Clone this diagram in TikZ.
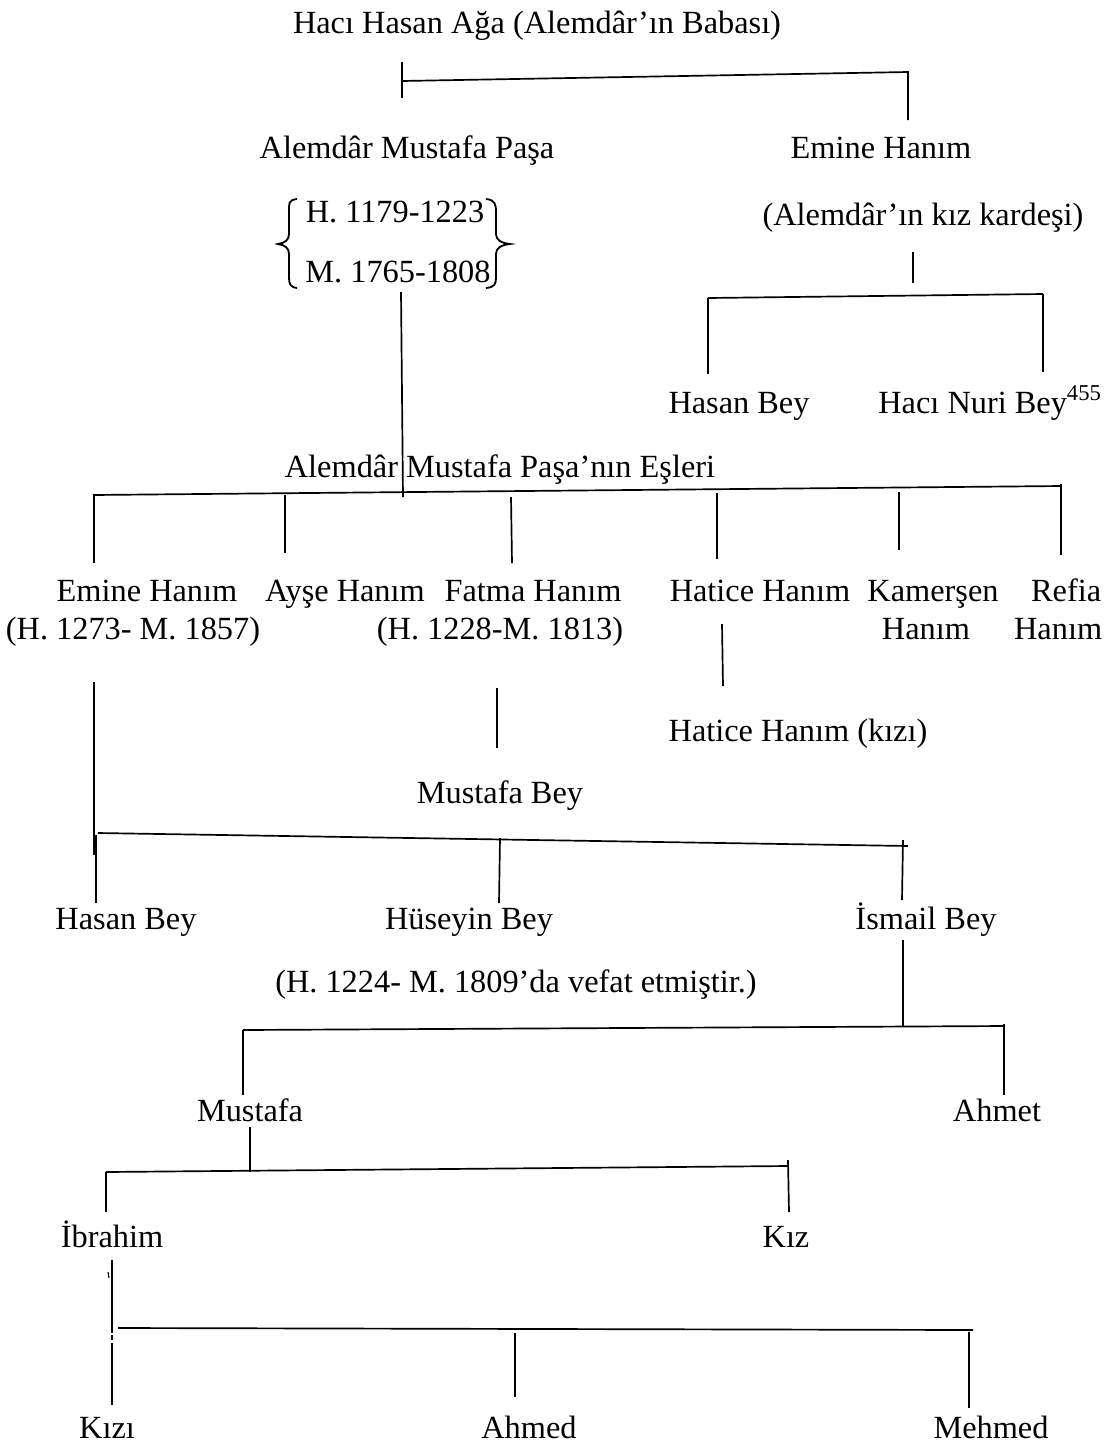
\documentclass[tikz,border=0pt]{standalone}
\usepackage{fontspec}
\setmainfont{Liberation Serif}
\begin{document}
\begin{tikzpicture}[x=0.025cm,y=-0.025cm,line width=1.2pt,
  every node/.style={anchor=base,inner sep=0pt,font=\fontsize{23}{27}\selectfont}]
\useasboundingbox (0,0) rectangle (1114,1443);

% names
\node (baba) at (537,33) {Hacı Hasan Ağa (Alemdâr’ın Babası)};
\node (pasa) at (407,158) {Alemdâr Mustafa Paşa};
\node (emine) at (881,158) {Emine Hanım};
\node (hicri) at (395,222) {H. 1179-1223};
\node (miladi) at (398,282) {M. 1765-1808};
\node (kardes) at (923,225) {(Alemdâr’ın kız kardeşi)};
\node (hasan) at (739,413) {Hasan Bey};
\node (nuri) at (990,413) {Hacı Nuri Bey\textsuperscript{455}};
\node (esler) at (500,477) {Alemdâr Mustafa Paşa’nın Eşleri};

\node (emineH) at (147,601) {Emine Hanım};
\node (emineT) at (133,639) {(H. 1273- M. 1857)};
\node (ayse) at (345,601) {Ayşe Hanım};
\node (fatma) at (533,601) {Fatma Hanım};
\node (fatmaT) at (500,639) {(H. 1228-M. 1813)};
\node (hatice) at (760,601) {Hatice Hanım};
\node (kamer) at (933,601) {Kamerşen};
\node (kamerH) at (926,639) {Hanım};
\node[anchor=base east] (refia) at (1102,601) {Refia};
\node[anchor=base east] (refiaH) at (1103,639) {Hanım};

\node (haticeK) at (798,741) {Hatice Hanım (kızı)};
\node (mustafaB) at (500,803) {Mustafa Bey};

\node (hasanB) at (126,929) {Hasan Bey};
\node (huseyin) at (469,929) {Hüseyin Bey};
\node (ismail) at (926,929) {İsmail Bey};
\node (vefat) at (516,992) {(H. 1224- M. 1809’da vefat etmiştir.)};

\node (mustafa) at (250,1121) {Mustafa};
\node (ahmet) at (997,1121) {Ahmet};
\node (ibrahim) at (112,1247) {İbrahim};
\node (kiz) at (786,1247) {Kız};
\node (kizi) at (107,1438) {Kızı};
\node (ahmed) at (529,1438) {Ahmed};
\node (mehmed) at (991,1438) {Mehmed};

% braces
\draw[line width=1.3pt] (297,199) .. controls (288,200) and (289,204) .. (289,212)
  -- (289,234) .. controls (289,240) and (285,243) .. (278,244)
  .. controls (285,245) and (289,248) .. (289,254) -- (289,277)
  .. controls (289,284) and (290,287) .. (297,288);
\draw[line width=1.3pt] (486,199) .. controls (495,200) and (496,204) .. (496,212)
  -- (496,234) .. controls (496,240) and (501,243) .. (510,244)
  .. controls (501,245) and (496,248) .. (496,254) -- (496,277)
  .. controls (496,284) and (495,287) .. (486,288);

% top bar
\coordinate (t0) at (402,81); \coordinate (t1) at (908,72);
\draw (t0) -- (t1) -- +(0,48);
\draw (t0) ++(0,-19) -- +(0,36);

% sister's children
\draw (913,252) -- (913,283);
\coordinate (e0) at (708,298); \coordinate (e1) at (1043,294);
\draw (e0) -- (e1);
\draw (e0) -- +(0,76);
\draw (e1) -- +(0,78);

% wives
\draw (401,292) -- (403,497);
\coordinate (s0) at (93,495); \coordinate (s1) at (1061,486);
\draw (s0) -- (s1);
\draw (94,495) -- (94,563);
\draw (285,495) -- (285,553);
\draw (511,497) -- (512,563);
\draw (717,493) -- (717,559);
\draw (899,492) -- (899,550);
\draw (1061,484) -- (1061,555);

\draw (722,624) -- (723,686);
\draw (497,688) -- (497,748);

% sons of Emine
\draw (94,682) -- (94,855);
\draw (96,835) -- (96,903);
\coordinate (o0) at (98,833); \coordinate (o1) at (908,846);
\draw (o0) -- (o1);
\draw (500,838) -- (499,903);
\draw (903,840) -- (902,900);

% Ismail
\draw (903,940) -- (903,1027);
\coordinate (g0) at (243,1030); \coordinate (g1) at (1005,1026);
\draw (g0) -- (g1);
\draw (g0) -- +(0,65);
\draw (1004,1024) -- (1004,1095);

% Mustafa
\draw (250,1127) -- (250,1172);
\coordinate (m0) at (106,1172); \coordinate (m1) at (788,1166);
\draw (m0) -- (m1);
\draw (m0) -- +(0,40);
\draw (788,1160) -- (789,1212);

% Ibrahim
\draw (112,1260) -- (112,1333);
\draw[line width=0.8pt] (108,1272) -- (109,1278);
\coordinate (i0) at (118,1328); \coordinate (i1) at (973,1330);
\draw (i0) -- (i1);
\draw (112,1335) -- (112,1340);
\draw (112,1343) -- (112,1405);
\draw (515,1333) -- (515,1397);
\draw (969,1332) -- (969,1408);
\end{tikzpicture}
\end{document}
